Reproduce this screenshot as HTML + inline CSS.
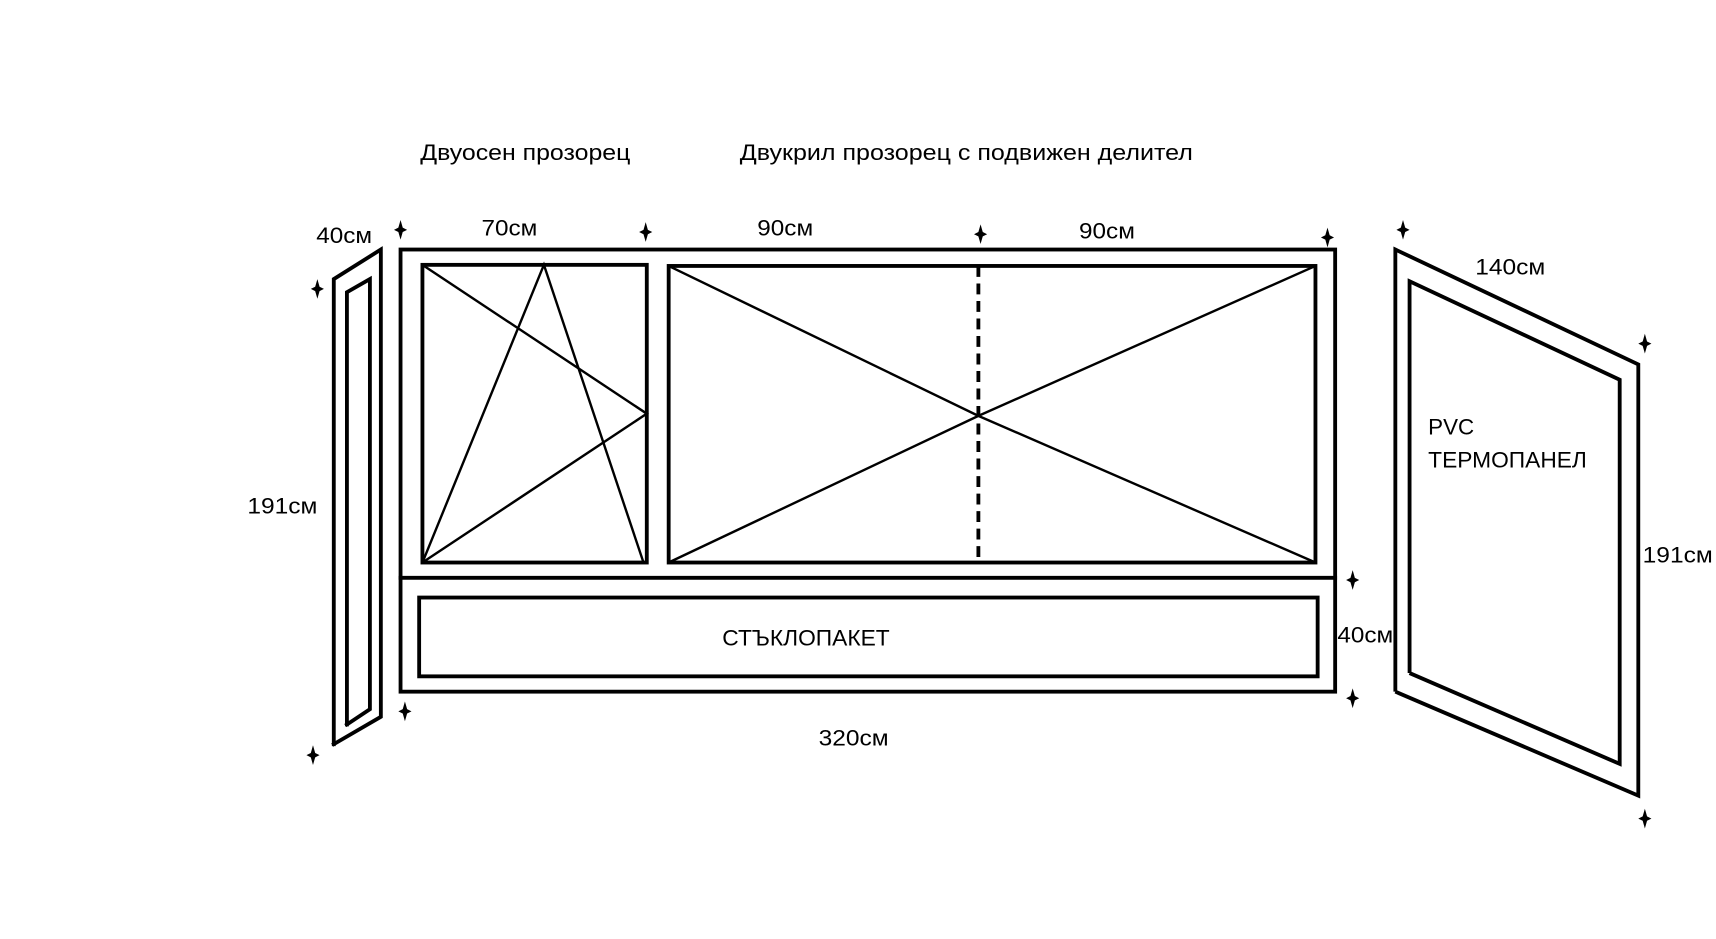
<!DOCTYPE html>
<html><head><meta charset="utf-8"><style>html,body{margin:0;padding:0;background:#fff}svg{display:block}text{font-family:"Liberation Sans","DejaVu Sans",sans-serif;font-size:20px;fill:#000}</style></head><body>
<svg width="1716" height="939" viewBox="0 0 1568 858" xmlns="http://www.w3.org/2000/svg">
<defs><path id="st" d="M0,-9 L2,-2 L6,0 L2,2 L0,9 L-2,2 L-6,0 L-2,-2 Z" fill="#000"/></defs>
<g stroke="#000" stroke-width="3.5" fill="none" stroke-linecap="square">
<polyline points="305,680 305,255 348,228 348,655 305,680"/>
<polyline points="317,662 317,267 338,255 338,648 317,662"/>
<rect x="366" y="228" width="854" height="404"/>
<line x1="366" y1="528" x2="1220" y2="528"/>
<rect x="386" y="242" width="205" height="272"/>
<rect x="611" y="243" width="591" height="271"/>
<rect x="383" y="546" width="821" height="72"/>
</g>
<g stroke="#000" stroke-width="2.2" fill="none">
<polyline points="386,242 591,378 386,514"/>
<polyline points="386,514 497,242 588,514"/>
<polyline points="611,243 894,380 1202,514"/>
<polyline points="611,514 894,380 1202,243"/>
</g>
<line x1="894" y1="243" x2="894" y2="514" stroke="#000" stroke-width="3.5" stroke-dasharray="10,6"/>
<g stroke="#000" stroke-width="3.5" fill="none">
<polyline points="1275,632 1275,228 1497,333 1497,727 1275,632"/>
<polyline points="1288,615 1288,257 1480,347 1480,698 1288,615"/>
</g>
<g>
<use href="#st" x="366" y="210"/><use href="#st" x="590" y="212"/><use href="#st" x="896" y="214"/><use href="#st" x="1213" y="217"/>
<use href="#st" x="290" y="264"/><use href="#st" x="286" y="690"/><use href="#st" x="370" y="650"/>
<use href="#st" x="1236" y="530"/><use href="#st" x="1236" y="638"/><use href="#st" x="1282" y="210"/>
<use href="#st" x="1503" y="314"/><use href="#st" x="1503" y="748"/>
</g>
<text x="384" y="146" textLength="192" lengthAdjust="spacingAndGlyphs">Двуосен прозорец</text>
<text x="676" y="146" textLength="414" lengthAdjust="spacingAndGlyphs">Двукрил прозорец с подвижен делител</text>
<text x="289" y="222" textLength="51" lengthAdjust="spacingAndGlyphs">40см</text>
<text x="440" y="215" textLength="51" lengthAdjust="spacingAndGlyphs">70см</text>
<text x="692" y="215" textLength="51" lengthAdjust="spacingAndGlyphs">90см</text>
<text x="986" y="218" textLength="51" lengthAdjust="spacingAndGlyphs">90см</text>
<text x="226" y="469" textLength="64" lengthAdjust="spacingAndGlyphs">191см</text>
<text x="660" y="590" textLength="153" lengthAdjust="spacingAndGlyphs">СТЪКЛОПАКЕТ</text>
<text x="1222" y="587" textLength="51" lengthAdjust="spacingAndGlyphs">40см</text>
<text x="748" y="681" textLength="64" lengthAdjust="spacingAndGlyphs">320см</text>
<text x="1348" y="251" textLength="64" lengthAdjust="spacingAndGlyphs">140см</text>
<text x="1305" y="397" textLength="42" lengthAdjust="spacingAndGlyphs">PVC</text>
<text x="1305" y="427" textLength="145" lengthAdjust="spacingAndGlyphs">ТЕРМОПАНЕЛ</text>
<text x="1501" y="514" textLength="64" lengthAdjust="spacingAndGlyphs">191см</text>
</svg>
</body></html>
